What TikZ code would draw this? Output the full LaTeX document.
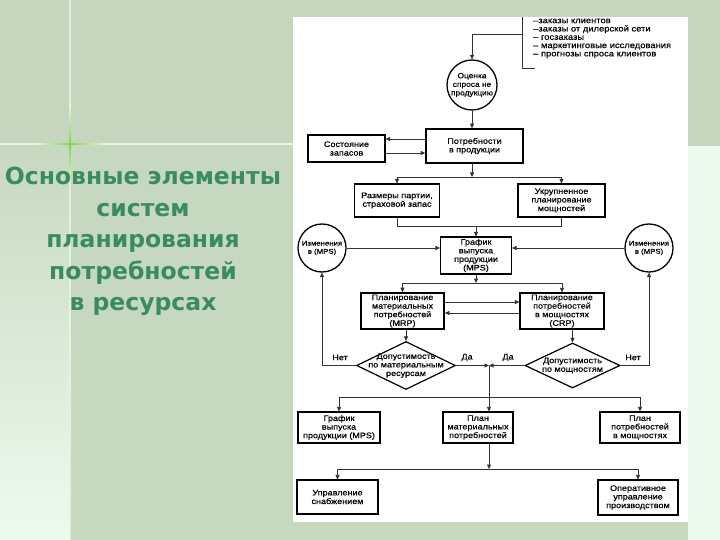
\documentclass[tikz,border=0pt]{standalone}
\usepackage{fontspec}
\setmainfont{Liberation Sans}
\newfontfamily\bxfam[FakeStretch=1.13,FakeBold=0.5]{Liberation Sans}
\newfontfamily\ttlfam{DejaVu Sans}
\usetikzlibrary{arrows.meta,shapes.geometric,calc}
\definecolor{bgmain}{RGB}{199,216,192}
\definecolor{bgtop}{RGB}{197,213,190}
\definecolor{bglight}{RGB}{239,250,239}
\definecolor{linelight}{RGB}{232,246,226}
\definecolor{glow}{RGB}{130,210,80}
\definecolor{ttlgreen}{RGB}{58,140,96}
\newcommand{\bxf}{\bxfam\fontsize{8}{8.6}\selectfont}
\newcommand{\cxf}{\bxfam\fontsize{6.9}{8.2}\selectfont}
\newcommand{\dxf}{\bxfam\fontsize{7.4}{8.6}\selectfont}
\begin{document}
\begin{tikzpicture}[x=1pt,y=-1pt,
  bx/.style={draw=black,line width=1.1pt,align=center,font=\bxf,inner sep=0pt},
  bxthick/.style={bx,line width=1.6pt},
  circ/.style={circle,draw=black,line width=1.3pt,inner sep=0pt,align=center,font=\cxf,minimum size=48pt},
  dia/.style={diamond,draw=black,line width=1.2pt,inner sep=0pt},
  conn/.style={draw=black!80,line width=0.6pt},
  arr/.style={conn,-{Triangle[length=4.5pt,width=4pt]}},
  lbl/.style={font=\bxf,inner sep=0pt}]
% background
\useasboundingbox (0,0) rectangle (720,540);
\fill[bgmain] (0,0) rectangle (720,540);
\fill[bgtop] (0,0) rectangle (720,144);
\shade[top color=bgmain,bottom color=bglight] (0,144) rectangle (70,540);
\fill[bglight] (688,146) rectangle (720,540);
\fill[linelight] (0,143.3) rectangle (293,144.8);
\fill[linelight,opacity=0.8] (69.4,0) rectangle (70.6,540);
\shade[left color=linelight,right color=linelight,middle color=glow] (35,143.3) rectangle (105,144.8);
\shade[top color=linelight,bottom color=linelight,middle color=glow] (69.3,105) rectangle (70.7,185);
% title
\node[font=\ttlfam\bfseries\fontsize{23.5}{31.5}\selectfont,text=ttlgreen,align=center,anchor=north,inner sep=0pt] (title) at (143,167) {Основные элементы\\систем\\планирования\\потребностей\\в ресурсах};
% white panel
\fill[white] (293,17) rectangle (688,522);
% source list
\node[anchor=north west,align=left,inner sep=0pt,font=\bxfam\fontsize{8.3}{8.3}\selectfont] (src) at (533,18.5) {–заказы клиентов\\–заказы от дилерской сети\\– госзаказы\\– маркетинговые исследования\\– прогнозы спроса клиентов};
\coordinate (b1) at (522,17);
\coordinate (b2) at (522,68);
\coordinate (b3) at (535,68);
\coordinate (b4) at (522,34);
% nodes
\node[circ,minimum size=50pt,font=\dxf] (dem) at (472,85) {Оценка\\спроса не\\продукцию};
\node[bx,minimum width=77pt,minimum height=27pt] (zap) at (346.5,148.5) {Состояние\\запасов};
\node[bxthick,minimum width=97pt,minimum height=34pt] (potr) at (474.5,146) {Потребности\\в продукции};
\node[bx,minimum width=85pt,minimum height=33pt] (razm) at (397,200.5) {Размеры партии,\\страховой запас};
\node[bx,minimum width=87pt,minimum height=33pt] (ukr) at (561.5,200.5) {Укрупненное\\планирование\\мощностей};
\node[circ] (izm1) at (322,248) {Изменения\\в (MPS)};
\node[circ] (izm2) at (649,248) {Изменения\\в (MPS)};
\node[bx,minimum width=71pt,minimum height=37pt] (mps) at (476,255.5) {График\\выпуска\\продукции\\(MPS)};
\node[bxthick,minimum width=83pt,minimum height=36pt] (mrp) at (402.5,311) {Планирование\\материальных\\потребностей\\(MRP)};
\node[bx,minimum width=84pt,minimum height=36pt] (crp) at (562,311) {Планирование\\потребностей\\в мощностях\\(CRP)};
\node[dia,minimum width=99pt,minimum height=48pt,label={[font=\bxf,align=center]center:Допустимость\\по материальным\\ресурсам}] (d1) at (406,365.5) {};
\node[dia,minimum width=95pt,minimum height=45pt,label={[font=\bxf,align=center]center:Допустимость\\по мощностям}] (d2) at (572.5,365.5) {};
\node[bx,minimum width=82pt,minimum height=31pt] (plan1) at (339,427.5) {График\\выпуска\\продукции (MPS)};
\node[bx,minimum width=70pt,minimum height=31pt] (plan2) at (478,427.5) {План\\материальных\\потребностей};
\node[bx,minimum width=80pt,minimum height=31pt] (plan3) at (640,427.5) {План\\потребностей\\в мощностях};
\node[bx,minimum width=81pt,minimum height=34pt] (upr1) at (337.5,497) {Управление\\снабжением};
\node[bx,minimum width=80pt,minimum height=35pt] (upr2) at (638,497.5) {Оперативное\\управление\\производством};
% labels
\node[lbl] (net1) at (340,357.5) {Нет};
\node[lbl] (da1) at (467,357.5) {Да};
\node[lbl] (da2) at (508,357.5) {Да};
\node[lbl] (net2) at (633,357.5) {Нет};
% helper coordinates
\coordinate (h1) at (0,177);
\coordinate (h2) at (0,226);
\coordinate (h3) at (0,283);
\coordinate (j) at (489,365.5);
\coordinate (h4) at (0,397);
\coordinate (h5) at (0,469);
\coordinate (pa) at ([yshift=7pt]potr.west);
\coordinate (pb) at ([yshift=-7pt]potr.west);
\coordinate (ma) at ([yshift=9pt]mrp.east);
\coordinate (mb) at ([yshift=-2pt]mrp.east);
% connectors
\draw[conn] (b1) -- (b2) -- (b3);
\draw[arr] (b4) -| (dem.north);
\draw[arr] (dem.south) -- (potr.north -| dem.south);
\draw[arr] (pa) -- (pa -| zap.east);
\draw[arr] (pb -| zap.east) -- (pb);
\draw[arr] (potr.south -| dem.south) -- (h1 -| dem.south);
\draw[conn] (h1 -| razm.north) -- (h1 -| ukr.north);
\draw[arr] (h1 -| razm.north) -- (razm.north);
\draw[arr] (h1 -| ukr.north) -- (ukr.north);
\draw[conn] (razm.south) -- (h2 -| razm.south) -- (h2 -| ukr.south) -- (ukr.south);
\draw[arr] (h2 -| mps.north) -- (mps.north);
\draw[arr] (izm1.east) -- (izm1.east -| mps.west);
\draw[arr] (izm2.west) -- (izm2.west -| mps.east);
\draw[arr] (mps.south) -- (h3 -| mps.south);
\draw[conn] (h3 -| mrp.north) -- (h3 -| crp.north);
\draw[arr] (h3 -| mrp.north) -- (mrp.north);
\draw[arr] (h3 -| crp.north) -- (crp.north);
\draw[arr] (ma) -- (ma -| crp.west);
\draw[arr] (mb -| crp.west) -- (mb);
\draw[arr] (d1.north |- mrp.south) -- (d1.north);
\draw[arr] (d2.north |- crp.south) -- (d2.north);
\draw[arr] (d1.west) -| (izm1.south);
\draw[arr] (d2.east) -| (izm2.south);
\draw[arr] (d1.east) -- (j);
\draw[arr] (d2.west) -- (j);
\draw[arr] (j) -- (j |- plan2.north);
\draw[conn] (h4 -| plan1.north) -- (h4 -| plan3.north);
\draw[arr] (h4 -| plan1.north) -- (plan1.north);
\draw[arr] (h4 -| plan3.north) -- (plan3.north);
\draw[arr] (j |- plan2.south) -- (j |- h5);
\draw[conn] (h5 -| upr1.north) -- (h5 -| upr2.north);
\draw[arr] (h5 -| upr1.north) -- (upr1.north);
\draw[arr] (h5 -| upr2.north) -- (upr2.north);
\end{tikzpicture}
\end{document}
